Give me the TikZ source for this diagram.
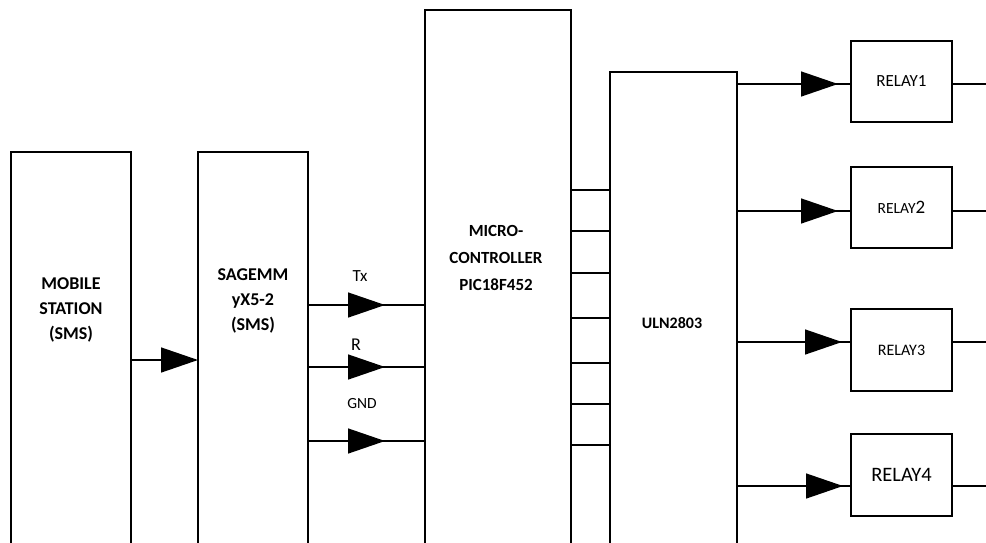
\documentclass[tikz,border=0pt]{standalone}
\usepackage{fontspec}
\setmainfont{Carlito}
\usetikzlibrary{arrows.meta,decorations.markings}

\tikzset{
	blk/.style={draw, line width=1.4pt, outer sep=0pt, inner sep=0pt, anchor=north west},
	wire/.style={line width=1.4pt},
	tri/.style={-{Triangle[length=37pt,width=25pt]}},
	tipat/.style={postaction={decorate}, decoration={markings,
		mark=at position #1 with {\arrow{Triangle[length=37pt,width=25pt]}}}},
	lbl/.style={font=\bfseries\fontsize{18}{25}\selectfont, align=center},
	pin/.style={font=\fontsize{17}{20}\selectfont, anchor=base},
}

\begin{document}
\begin{tikzpicture}[x=1pt,y=-1pt]
	\useasboundingbox (0,0) rectangle (986,542);
	\clip (0,0) rectangle (986,542);

	% blocks run off the bottom edge
	\node[blk, minimum width=120pt, minimum height=460pt] (mobile) at (11,152) {};
	\node[blk, minimum width=110pt, minimum height=460pt] (sagem) at (198,152) {};
	\node[blk, minimum width=146pt, minimum height=600pt] (micro) at (425,10) {};
	\node[blk, minimum width=127pt, minimum height=540pt] (uln) at (610,72) {};

	\node[lbl] (mobile text) at (71,310) {MOBILE\\STATION\\(SMS)};
	\node[lbl] (sagem text) at (253,301) {SAGEMM\\yX5-2\\(SMS)};
	\node[lbl, font=\bfseries\fontsize{17}{27}\selectfont] (micro text) at (496,258) {MICRO-\\CONTROLLER\\PIC18F452};
	\node[lbl, font=\bfseries\fontsize{16}{20}\selectfont] (uln text) at (672,323) {ULN2803};

	% relays
	\node[blk, minimum width=101pt, minimum height=81pt, font=\fontsize{17}{20}\selectfont] (relay1) at (851,41) {RELAY1};
	\node[blk, minimum width=101pt, minimum height=81pt, font=\fontsize{15.5}{20}\selectfont] (relay2) at (851,167) {RELAY{\fontsize{19}{20}\selectfont 2}};
	\node[blk, minimum width=101pt, minimum height=82pt, font=\fontsize{16}{20}\selectfont] (relay3) at (851,309) {RELAY3};
	\node[blk, minimum width=101pt, minimum height=82pt, font=\fontsize{20.5}{22}\selectfont] (relay4) at (851,434) {RELAY4};

	% mobile to modem
	\draw[wire, tri] (mobile.east |- 0,360) -- (sagem.west |- 0,360);

	% modem to controller
	\foreach \y in {305,367,441}
		\draw[wire, tipat=-40pt] (sagem.east |- 0,\y) -- (micro.west |- 0,\y);
	\node[pin] (tx) at (360,281) {Tx};
	\node[pin, font=\fontsize{18}{20}\selectfont] (r) at (356,350) {R};
	\node[pin, font=\fontsize{15.5}{20}\selectfont] (gnd) at (362,408) {GND};

	% port lines
	\foreach \y in {190,231,273,318,363,404,445}
		\draw[wire] (micro.east |- 0,\y) -- (uln.west |- 0,\y);

	% driver to relays
	\foreach \n/\y/\t in {1/84/-13pt, 2/211/-13pt, 3/342/-9pt, 4/486/-8pt} {
		\coordinate (out\n) at (990,\y);
		\draw[wire, tipat=\t] (uln.east |- 0,\y) -- (relay\n.west |- 0,\y);
		\draw[wire] (relay\n.east |- 0,\y) -- (out\n);
	}
\end{tikzpicture}
\end{document}
